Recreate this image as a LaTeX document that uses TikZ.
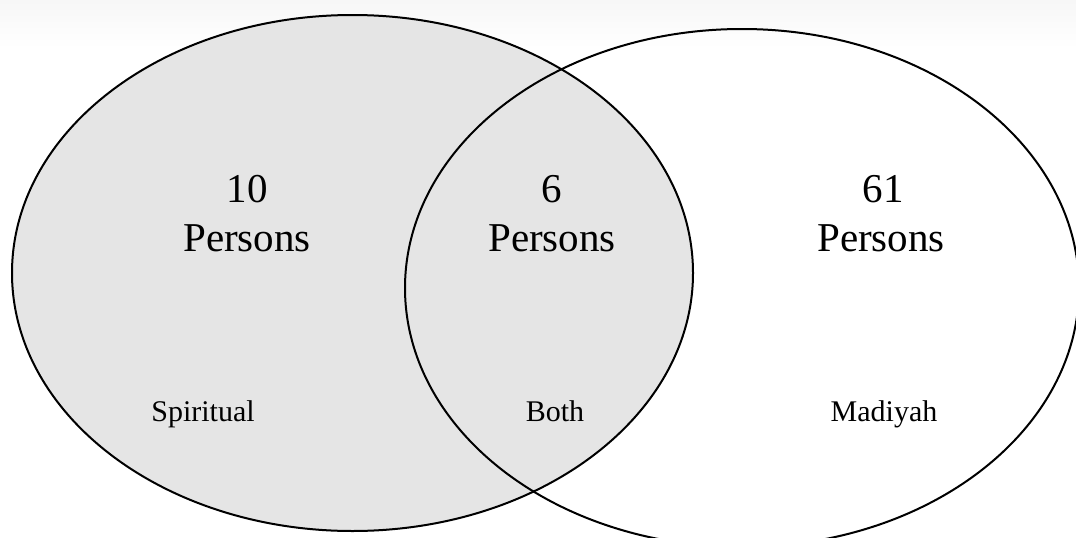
\documentclass[tikz,border=0pt]{standalone}
\usepackage{fontspec}
\setmainfont{Liberation Serif}
\definecolor{setfill}{HTML}{E5E5E5}
\definecolor{topband}{HTML}{F7F7F7}
\begin{document}
\begin{tikzpicture}[x=1pt,y=-1pt,
  setline/.style={line width=2pt,draw=black},
  bigtxt/.style={font=\fontsize{41}{49}\selectfont,anchor=base,inner sep=0pt},
  smalltxt/.style={font=\fontsize{30}{35}\selectfont,anchor=base,inner sep=0pt}]
\useasboundingbox (0,0) rectangle (1076,538);
\clip (0,0) rectangle (1076,538);
\fill[white] (0,0) rectangle (1076,538);
\shade[top color=topband,bottom color=white] (0,0) rectangle (1076,48);
% left set (Spiritual)
\fill[setfill] (352.5,273) ellipse [x radius=340.5, y radius=258];
\draw[setline] (352.5,273) ellipse [x radius=340.5, y radius=258];
% right set (Madiyah)
\draw[setline] (742,288) ellipse [x radius=337, y radius=259];
% labels
\node[bigtxt] (n10) at (247,202) {10};
\node[bigtxt] (p10) at (247,251) {Persons};
\node[bigtxt] (n6) at (552,202) {6};
\node[bigtxt] (p6) at (552,251) {Persons};
\node[bigtxt] (n61) at (883,202) {61};
\node[bigtxt] (p61) at (881,251) {Persons};
\node[smalltxt] (spi) at (203,421) {Spiritual};
\node[smalltxt] (both) at (555,421) {Both};
\node[smalltxt] (mad) at (884,421) {Madiyah};
\end{tikzpicture}
\end{document}
